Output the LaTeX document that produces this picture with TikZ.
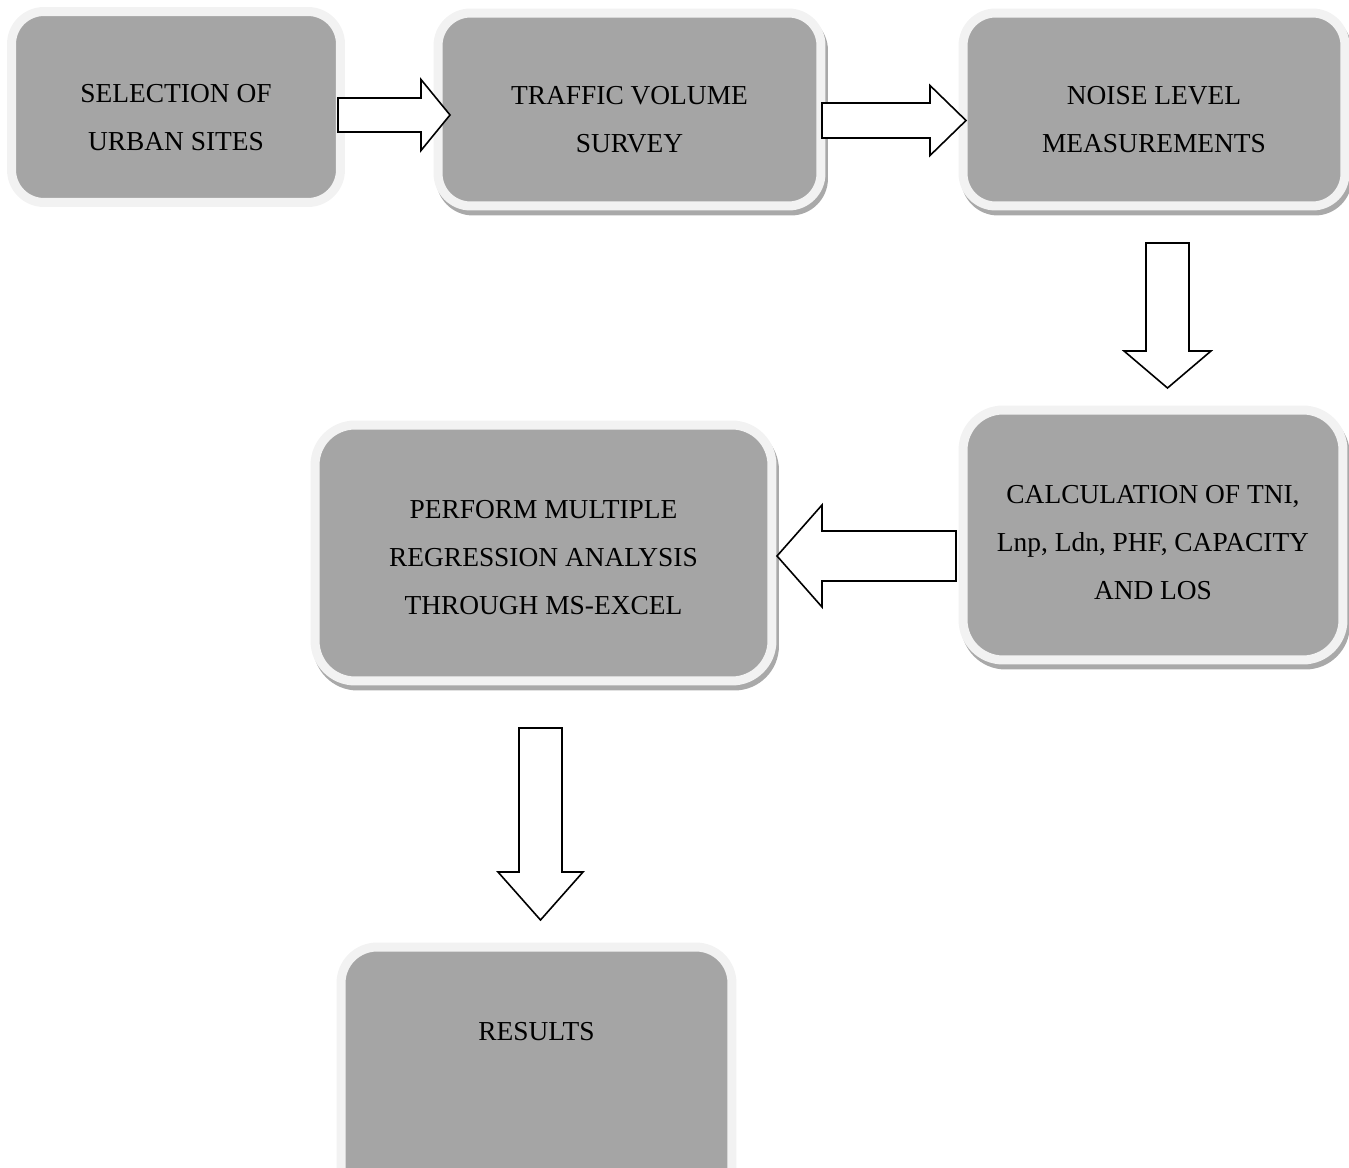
\documentclass[tikz,border=0pt]{standalone}
\usepackage{fontspec}
\setmainfont{Liberation Serif}
\usepackage{xcolor}
\usepackage{tikz}
\usetikzlibrary{positioning, calc}

\definecolor{boxgray}{HTML}{A5A5A5}
\definecolor{halogray}{HTML}{F2F2F2}
\definecolor{shadowgray}{HTML}{A9A9A9}

% block arrow: tail, tip, shaft half-width, head half-width, head length
\newcommand{\blockarrow}[5]{%
  \coordinate (#2-base) at ($(#2)!#5!(#1)$);
  \draw[arrowbody] ($(#1)!#3!90:(#2)$) -- ($(#2-base)!#3!-90:(#1)$)
    -- ($(#2-base)!#4!-90:(#1)$) -- (#2) -- ($(#2-base)!#4!90:(#1)$)
    -- ($(#2-base)!#3!90:(#1)$) -- ($(#1)!#3!-90:(#2)$) -- cycle;
}

\begin{document}
\begin{tikzpicture}[x=0.02cm, y=-0.02cm,
  stagebox/.style={rectangle, rounded corners=0.65cm, fill=boxgray, draw=halogray,
    line width=0.18cm, inner sep=0pt},
  withshadow/.style={preaction={draw=shadowgray, fill=shadowgray,
    transform canvas={shift={(0.05cm,-0.1cm)}}}},
  stagetext/.style={align=center, inner sep=0pt, font=\fontsize{15.6}{27.3}\selectfont},
  arrowbody/.style={draw=black, fill=white, line width=0.032cm, line join=miter}]
  \useasboundingbox (0,0) rectangle (1349,1168);

  % stages
  \node[stagebox, minimum width=6.58cm, minimum height=3.82cm] (sites) at (176,107) {};
  \node[stagebox, withshadow, minimum width=7.66cm, minimum height=3.86cm] (survey) at (629.5,109.5) {};
  \node[stagebox, withshadow, minimum width=7.64cm, minimum height=3.86cm] (noise) at (1154,109.5) {};
  \node[stagebox, withshadow, rounded corners=0.8cm, minimum width=7.6cm, minimum height=5cm] (calc) at (1153,535) {};
  \node[stagebox, withshadow, rounded corners=0.8cm, minimum width=9.14cm, minimum height=5.12cm] (regr) at (543.5,553) {};
  \node[stagebox, rounded corners=0.72cm, minimum width=7.82cm, minimum height=5.2cm] (res) at (536.5,1077) {};

  \node[stagetext] (sitestext) at ([yshift=-0.21cm]sites.center) {SELECTION OF\\URBAN SITES};
  \node[stagetext] (surveytext) at ([yshift=-0.21cm]survey.center) {TRAFFIC VOLUME\\SURVEY};
  \node[stagetext] (noisetext) at ([yshift=-0.21cm]noise.center) {NOISE LEVEL\\MEASUREMENTS};
  \node[stagetext] (calctext) at ([yshift=-0.16cm]calc.center) {CALCULATION OF TNI,\\Lnp, Ldn, PHF, CAPACITY\\AND LOS};
  \node[stagetext] (regrtext) at ([yshift=-0.1cm]regr.center) {PERFORM MULTIPLE\\REGRESSION ANALYSIS\\THROUGH MS-EXCEL};
  \node[stagetext] (restext) at ([yshift=0.9cm]res.center) {RESULTS};

  % arrow ends
  \coordinate (a1tail) at (338,115);    \coordinate (a1tip) at (450,115);
  \coordinate (a2tail) at (822,120.5);  \coordinate (a2tip) at (966,120.5);
  \coordinate (a3tail) at (1167.5,243); \coordinate (a3tip) at (1167.5,388);
  \coordinate (a4tail) at (956,556);    \coordinate (a4tip) at (777,556);
  \coordinate (a5tail) at (540.5,728);  \coordinate (a5tip) at (540.5,920);

  \blockarrow{a1tail}{a1tip}{0.34cm}{0.71cm}{0.58cm}
  \blockarrow{a2tail}{a2tip}{0.35cm}{0.70cm}{0.72cm}
  \blockarrow{a3tail}{a3tip}{0.43cm}{0.87cm}{0.74cm}
  \blockarrow{a4tail}{a4tip}{0.50cm}{1.02cm}{0.90cm}
  \blockarrow{a5tail}{a5tip}{0.43cm}{0.85cm}{0.96cm}
\end{tikzpicture}
\end{document}
